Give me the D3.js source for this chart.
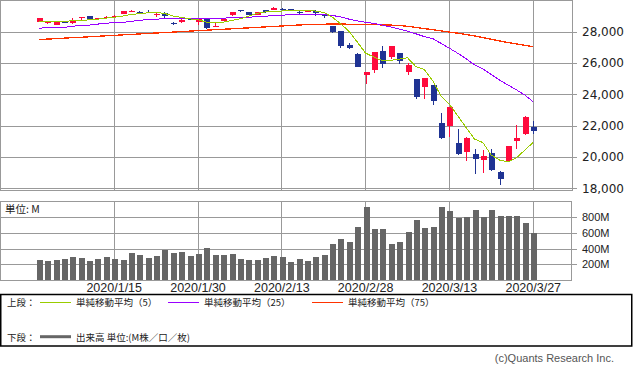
<!DOCTYPE html>
<html>
<head>
<meta charset="utf-8">
<script src="https://cdn.jsdelivr.net/npm/d3@7"></script>
<style>
  body { margin: 0; background: #fff; }
</style>
</head>
<body>
<svg id="chart" width="633" height="373"></svg>
<script>
const dates = ['2020/1/2','2020/1/3','2020/1/6','2020/1/7','2020/1/8','2020/1/9','2020/1/10','2020/1/13','2020/1/14','2020/1/15',
  '2020/1/16','2020/1/17','2020/1/21','2020/1/22','2020/1/23','2020/1/24','2020/1/27','2020/1/28','2020/1/29','2020/1/30',
  '2020/1/31','2020/2/3','2020/2/4','2020/2/5','2020/2/6','2020/2/7','2020/2/10','2020/2/11','2020/2/12','2020/2/13',
  '2020/2/14','2020/2/18','2020/2/19','2020/2/20','2020/2/21','2020/2/24','2020/2/25','2020/2/26','2020/2/27','2020/2/28',
  '2020/3/2','2020/3/3','2020/3/4','2020/3/5','2020/3/6','2020/3/9','2020/3/10','2020/3/11','2020/3/12','2020/3/13',
  '2020/3/16','2020/3/17','2020/3/18','2020/3/19','2020/3/20','2020/3/23','2020/3/24','2020/3/25','2020/3/26','2020/3/27']

const open = [28639,28553,28466,28639,28556,28851,29002,28847,28897,28930,
  29131,29313,29285,29250,29094,29232,28570,28625,28820,28640,
  28813,28319,28697,29048,29391,29286,29059,29366,29406,29437,
  29441,29280,29280,29327,29148,28402,28029,27188,26572,25250,
  25590,26762,26383,26671,25458,24992,24453,24604,22184,21974,
  20916,20345,20190,19810,20253,19029,19723,21050,21468,21899]
const high = [28872,28717,28708,28685,28866,28958,29010,28907,29010,29088,
  29298,29374,29333,29373,29202,29244,28650,28799,28892,28884,
  28813,28592,28896,29293,29408,29286,29277,29415,29568,29520,
  29441,29376,29406,29370,29148,28402,28082,27304,26618,25451,
  26706,27084,27102,26671,25995,24992,25020,24604,22837,23186,
  21789,21299,20520,20440,20531,19120,20705,22019,22595,22328]
const low = [28627,28500,28419,28565,28502,28778,28789,28803,28857,28895,
  29128,29246,29113,29173,28936,28844,28423,28572,28723,28422,
  28169,28319,28697,29002,29254,29057,29059,29229,29406,29351,
  29315,29149,29280,29004,28866,27948,26985,26880,25766,24681,
  25391,25706,26286,25943,25227,23707,23690,23328,21154,21285,
  20116,19775,18917,19008,19122,18214,19650,20538,21427,21470]
const close = [28868,28634,28703,28584,28745,28957,28824,28907,28940,29030,
  29298,29348,29197,29186,29160,28990,28535,28723,28734,28859,
  28256,28400,28807,29291,29380,29103,29276,29276,29551,29423,
  29398,29232,29348,29219,28992,27961,27081,26957,25766,25409,
  26703,25917,27091,26121,25865,23851,25018,23553,21200,23186,
  20189,21237,19899,20087,19174,18592,20705,21201,22552,21637]

// volume, in millions
const volume = [255,243,255,272,293,285,243,272,293,272,
  255,343,318,281,306,381,343,356,306,331,
  406,318,318,331,268,255,255,281,306,293,
  230,268,243,293,318,456,520,482,670,921,
  645,645,456,482,607,758,658,670,921,871,
  783,796,884,796,884,808,808,808,720,595]

const ma5 = [28627,28629,28641,28665,28707,28725,28763,28803,28875,28932,
  29000,29105,29163,29212,29238,29176,29014,28919,28828,28768,
  28621,28594,28611,28723,28827,28996,29171,29265,29317,29326,
  29385,29376,29390,29324,29238,28950,28520,28042,27351,26635,
  26383,26150,26177,26248,26339,25769,25589,24882,23897,23362,
  22629,21873,21142,20920,20117,19798,19691,19952,20445,20937]
const ma25 = [28218,28281,28281,28281,28345,28428,28428,28492,28537,28601,
  28601,28665,28728,28792,28792,28856,28856,28856,28856,28856,
  28856,28856,28856,28920,28920,28920,28984,28984,29048,29048,
  29112,29112,29131,29112,29086,29048,28952,28811,28697,28613,
  28531,28428,28307,28179,28039,27873,27694,27566,27260,26947,
  26627,26277,25887,25625,25274,24916,24597,24290,23958,23530]
const ma75 = [27502,27534,27560,27592,27624,27649,27681,27713,27745,27771,
  27803,27834,27860,27892,27924,27949,27981,28013,28045,28071,
  28103,28134,28160,28192,28224,28249,28281,28313,28345,28371,
  28403,28435,28460,28473,28486,28492,28492,28486,28473,28460,
  28454,28441,28428,28403,28352,28281,28205,28134,28058,27981,
  27911,27822,27739,27630,27522,27413,27317,27221,27132,27043]

const priceTicks = [18000, 20000, 22000, 24000, 26000, 28000]
const volTicks = [200, 400, 600, 800]
const dateTicks = ['2020/1/15','2020/1/30','2020/2/13','2020/2/28','2020/3/13','2020/3/27']

const upColor = '#ff0a3c'
const downColor = '#1f3393'
const gridColor = '#999'

const svg = d3.select('#chart')
const plotW = 572
const priceTop = 0.5, priceBottom = 188.3, priceFrame = 190.5
const volTop = 201, volBottom = 280.3

const x = d3.scaleBand()
  .domain(dates)
  .range([0, plotW])
  .paddingInner(0.25)
  .paddingOuter(4.25)
const cx = d => x(d) + x.bandwidth() / 2

const y = d3.scaleLinear().domain([18000, 30000]).range([priceBottom, priceTop])
const yv = d3.scaleLinear().domain([0, 1000]).range([volBottom, volTop])

function styleAxis(g) {
  g.select('.domain').remove()
  g.selectAll('line').attr('stroke', gridColor).attr('shape-rendering', 'crispEdges')
}

// ---- price panel
svg.append('rect')
  .attr('x', 0.5).attr('y', 0.5)
  .attr('width', plotW - 0.5).attr('height', priceFrame - 0.5)
  .attr('fill', 'none').attr('stroke', gridColor)
  .attr('shape-rendering', 'crispEdges')

svg.append('g')
  .attr('transform', `translate(${plotW + 5},0)`)
  .call(d3.axisRight(y).tickValues(priceTicks).tickSize(-(plotW + 5)).tickPadding(5).tickFormat(d3.format(',')))
  .call(styleAxis)
  .call(g => g.selectAll('text')
    .attr('fill', '#222')
    .attr('font-family', 'DejaVu Sans')
    .attr('font-size', '12px'))

svg.append('g')
  .attr('transform', `translate(0,${priceFrame})`)
  .call(d3.axisBottom(x).tickValues(dateTicks).tickSize(-(priceFrame - priceTop)).tickFormat(''))
  .call(styleAxis)

const candle = svg.append('g')
  .attr('shape-rendering', 'crispEdges')
  .selectAll('g')
  .data(dates)
  .join('g')
  .attr('fill', (d, i) => close[i] >= open[i] ? upColor : downColor)
  .attr('stroke', (d, i) => close[i] >= open[i] ? upColor : downColor)

candle.append('line')
  .attr('x1', d => Math.round(cx(d)) + 0.5)
  .attr('x2', d => Math.round(cx(d)) + 0.5)
  .attr('y1', (d, i) => y(high[i]))
  .attr('y2', (d, i) => y(low[i]))
  .attr('stroke-width', 1)

candle.append('rect')
  .attr('stroke', 'none')
  .attr('x', d => Math.round(cx(d)) - 2.5)
  .attr('width', 6)
  .attr('y', (d, i) => y(Math.max(open[i], close[i])))
  .attr('height', (d, i) => Math.max(1, Math.abs(y(open[i]) - y(close[i]))))

function maLine(values, color, width) {
  svg.append('path')
    .datum(values)
    .attr('fill', 'none')
    .attr('stroke', color)
    .attr('stroke-width', width)
    .attr('shape-rendering', 'crispEdges')
    .attr('d', d3.line()
      .x((d, i) => cx(dates[i]))
      .y(d => y(d)))
}

maLine(ma75, '#ff3300', 1.3)
maLine(ma25, '#9900ff', 1)
maLine(ma5, '#99cc00', 1)

// ---- volume panel
svg.append('rect')
  .attr('x', 0.5).attr('y', volTop)
  .attr('width', plotW - 1).attr('height', volBottom - volTop)
  .attr('fill', 'none').attr('stroke', gridColor)
  .attr('shape-rendering', 'crispEdges')

svg.append('g')
  .attr('transform', `translate(${plotW + 5},0)`)
  .call(d3.axisRight(yv).tickValues(volTicks).tickSize(-(plotW + 5)).tickPadding(5).tickFormat(d => d + 'M'))
  .call(styleAxis)
  .call(g => g.selectAll('text')
    .attr('fill', '#222')
    .attr('font-family', 'Liberation Sans')
    .attr('font-size', '11px'))

svg.append('g')
  .attr('transform', `translate(0,${volBottom})`)
  .call(d3.axisBottom(x).tickValues(dateTicks).tickSize(-(volBottom - volTop)))
  .call(styleAxis)
  .call(g => g.selectAll('text')
    .attr('y', 12)
    .attr('dy', 0)
    .attr('fill', '#222')
    .attr('font-family', 'Liberation Sans')
    .attr('font-size', '12.5px'))

svg.append('g')
  .attr('shape-rendering', 'crispEdges')
  .selectAll('rect')
  .data(dates)
  .join('rect')
  .attr('x', d => Math.round(cx(d)) - 2.5)
  .attr('width', 6.5)
  .attr('y', (d, i) => yv(volume[i]))
  .attr('height', (d, i) => volBottom - yv(volume[i]))
  .attr('fill', '#666')

svg.append('text')
  .attr('x', 5).attr('y', 212.5)
  .attr('font-family', 'Noto Sans CJK JP')
  .attr('font-size', '10.5px')
  .attr('fill', '#222')
  .text('単位: M')

// ---- legend
svg.append('rect')
  .attr('x', 0.75).attr('y', 294.5)
  .attr('width', 631).attr('height', 51.5)
  .attr('fill', 'none')
  .attr('stroke', '#000')
  .attr('stroke-width', 1.5)

const legendFont = g => g
  .attr('font-family', 'Noto Sans CJK JP')
  .attr('font-size', '9.5px')
  .attr('fill', '#222')

svg.append('text').attr('x', 7).attr('y', 306).call(legendFont).text('上段：')
svg.append('text').attr('x', 7).attr('y', 340.5).call(legendFont).text('下段：')

const legendItems = [
  { label: '単純移動平均（5）', color: '#99cc00', x: 40 },
  { label: '単純移動平均（25）', color: '#9900ff', x: 168 },
  { label: '単純移動平均（75）', color: '#ff3300', x: 312 }
]

legendItems.forEach(function(item) {
  svg.append('line')
    .attr('x1', item.x).attr('x2', item.x + 31)
    .attr('y1', 302.5).attr('y2', 302.5)
    .attr('stroke', item.color)
    .attr('shape-rendering', 'crispEdges')
  svg.append('text')
    .attr('x', item.x + 36).attr('y', 306)
    .call(legendFont)
    .text(item.label)
})

svg.append('line')
  .attr('x1', 40).attr('x2', 71)
  .attr('y1', 336.7).attr('y2', 336.7)
  .attr('stroke', '#666')
  .attr('stroke-width', 3)
svg.append('text').attr('x', 76).attr('y', 340.5).call(legendFont).text('出来高 単位:(M株／口／枚)')

svg.append('text')
  .attr('x', 614).attr('y', 362)
  .attr('text-anchor', 'end')
  .attr('font-family', 'Liberation Sans')
  .attr('font-size', '11px')
  .attr('fill', '#555')
  .text('(c)Quants Research Inc.')
</script>
</body>
</html>
